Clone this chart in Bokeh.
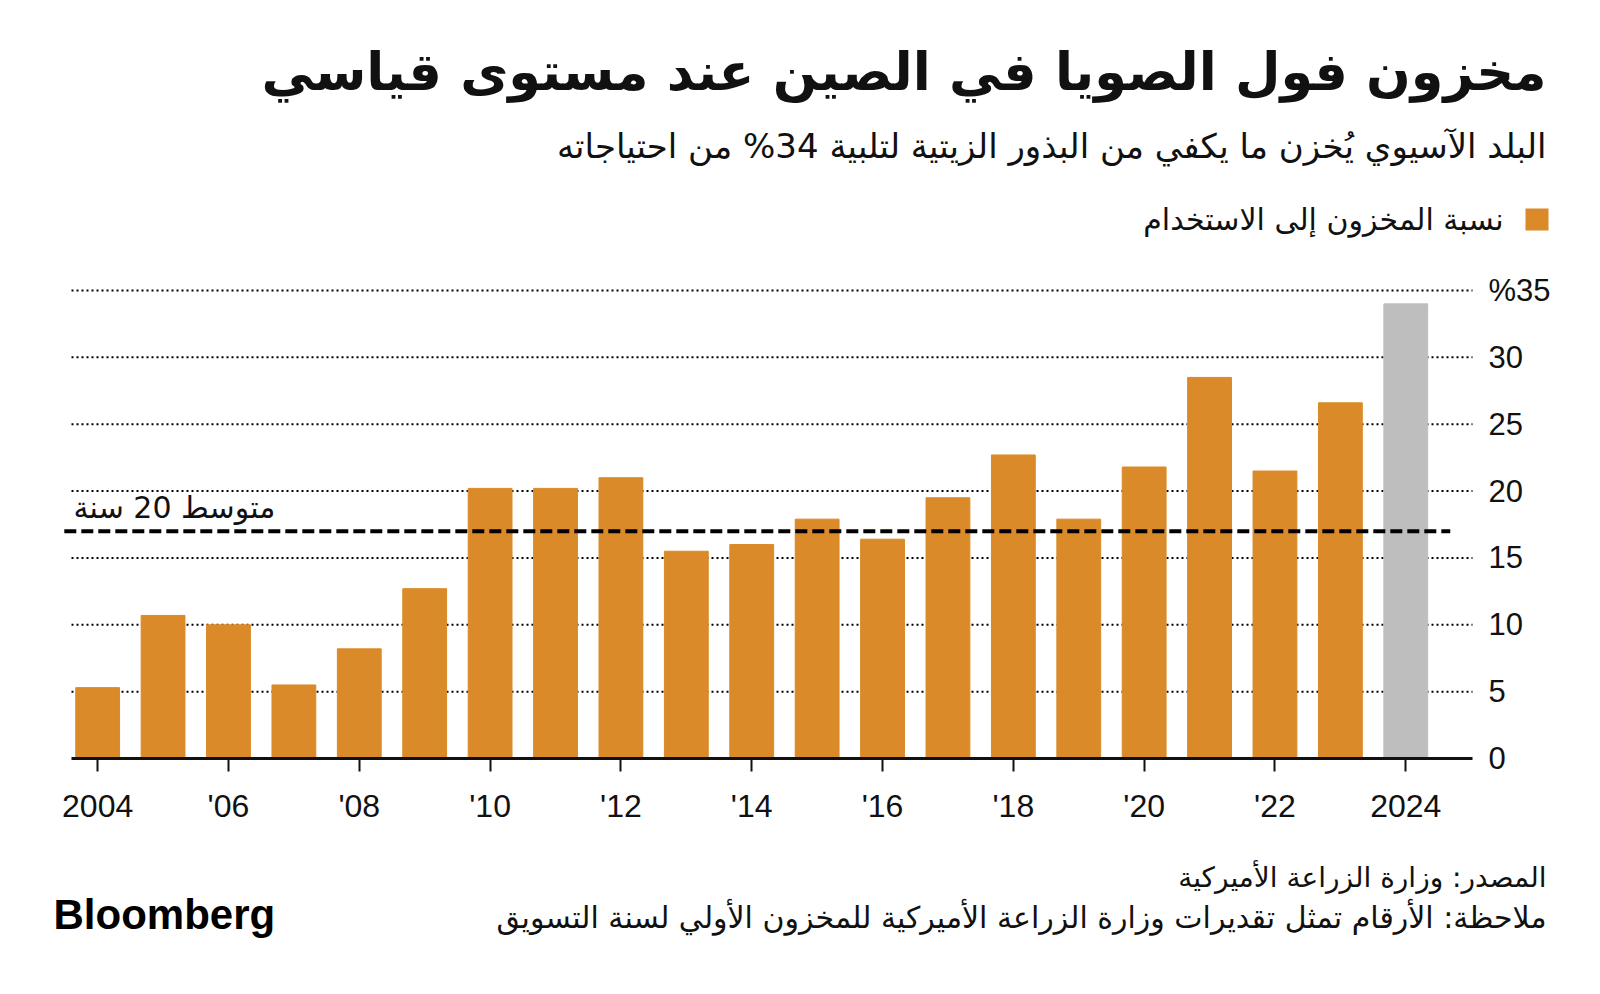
from bokeh.plotting import figure
from bokeh.models import Range1d, FixedTicker, Label, BoxAnnotation, LinearAxis
from bokeh.embed import file_html
from bokeh.resources import INLINE

years = list(range(2004, 2025))
ratio = [5.3, 10.7, 10.0, 5.5, 8.2, 12.7, 20.2, 20.2, 21.0, 15.5, 16.0,
         17.9, 16.4, 19.5, 22.7, 17.9, 21.8, 28.5, 21.5, 26.6, 34.0]
bar_colors = ["#DA8A28"] * 20 + ["#BEBEBE"]
avg_20yr = 17.0
avg_span = [2003.49, 2024.68]
x_ticks = list(range(2004, 2025, 2))
x_tick_labels = ["2004", "'06", "'08", "'10", "'12", "'14", "'16", "'18", "'20", "'22", "2024"]
y_ticks = [0, 5, 10, 15, 20, 25, 30, 35]
y_tick_labels = ["0", "5", "10", "15", "20", "25", "30", "%35"]

title = "مخزون فول الصويا في الصين عند مستوى قياسي"
subtitle = "البلد الآسيوي يُخزن ما يكفي من البذور الزيتية لتلبية 34% من احتياجاته"
legend_text = "نسبة المخزون إلى الاستخدام"
avg_text = "متوسط 20 سنة"
source_text = "المصدر: وزارة الزراعة الأميركية"
note_text = "ملاحظة: الأرقام تمثل تقديرات وزارة الزراعة الأميركية للمخزون الأولي لسنة التسويق"

AR = "DejaVu Sans"
NUM = "Liberation Sans"

W, H = 1584, 978
# plot area in pixels (canvas): x 71..1472, y(35)=290, y(0)=758
X0, X1 = 2003.6, 2025.02
PX_L, PX_R, PY_T, PY_B = 71, 1472, 290, 758
Y0, Y1 = 0, 35
kx = (PX_R - PX_L) / (X1 - X0)
ky = (PY_B - PY_T) / (Y1 - Y0)
xr = Range1d(X0 - PX_L / kx, X1 + (W - PX_R) / kx)
yr = Range1d(Y0 - (H - PY_B) / ky, Y1 + PY_T / ky)

p = figure(width=W, height=H, output_backend="svg", toolbar_location=None,
           x_range=xr, y_range=yr, x_axis_location=None, y_axis_location=None,
           min_border=0, min_border_left=0, min_border_right=0,
           min_border_top=0, min_border_bottom=0)
p.outline_line_color = None
p.background_fill_color = "white"
p.border_fill_color = "white"
p.grid.visible = False

# dotted gridlines
p.segment(x0=[X0] * len(y_ticks[1:]), x1=[X1] * len(y_ticks[1:]), y0=y_ticks[1:], y1=y_ticks[1:],
          line_color="black", line_width=2, line_dash="2 3")

p.vbar(x=years, top=ratio, width=0.67, color=bar_colors)
p.line(x=avg_span, y=[avg_20yr, avg_20yr], line_color="black", line_width=4, line_dash="12 5")

xa = LinearAxis(fixed_location=0, bounds=(X0, X1))
xa.ticker = FixedTicker(ticks=x_ticks)
xa.major_label_overrides = {t: l for t, l in zip(x_ticks, x_tick_labels)}
xa.axis_line_color = "#111111"
xa.axis_line_width = 3
xa.major_tick_line_color = "#111111"
xa.major_tick_line_width = 2
xa.major_tick_out = 13
xa.major_tick_in = 0
xa.minor_tick_line_color = None
xa.major_label_text_font = NUM
xa.major_label_text_font_size = "32px"
xa.major_label_text_color = "#111111"
xa.major_label_standoff = 16
p.add_layout(xa, "below")

ya = LinearAxis(fixed_location=X1, bounds=(Y0, Y1))
ya.ticker = FixedTicker(ticks=y_ticks)
ya.major_label_overrides = {t: l for t, l in zip(y_ticks, y_tick_labels)}
ya.axis_line_color = None
ya.major_tick_line_color = None
ya.minor_tick_line_color = None
ya.major_label_text_font = NUM
ya.major_label_text_font_size = "31px"
ya.major_label_text_color = "#111111"
ya.major_label_standoff = 10
p.add_layout(ya, "right")

def lab(text, x, y, size, align="right", baseline="middle", font=AR, style="normal", color="#111111"):
    p.add_layout(Label(text=text, x=x, y=H - y, x_units="screen", y_units="screen",
                       text_font=font, text_font_size=size, text_font_style=style,
                       text_align=align, text_baseline=baseline, text_color=color))

lab(title, 1546, 71, "52.5px", style="bold")
lab(subtitle, 1546, 145, "34px")
lab(legend_text, 1503, 219, "30px")
p.add_layout(BoxAnnotation(left=1525, right=1548, bottom=H - 230, top=H - 208,
                           left_units="screen", right_units="screen",
                           top_units="screen", bottom_units="screen",
                           fill_color="#DA8A28", fill_alpha=1, line_color=None))
lab(avg_text, 73, 507, "30px", align="left")
lab(source_text, 1546, 877, "28px")
lab(note_text, 1546, 917, "30px")
lab("Bloomberg", 53, 914, "42px", align="left", baseline="alphabetic", font=NUM, style="bold", color="black")

open("out.html", "w").write(file_html(p, INLINE))
